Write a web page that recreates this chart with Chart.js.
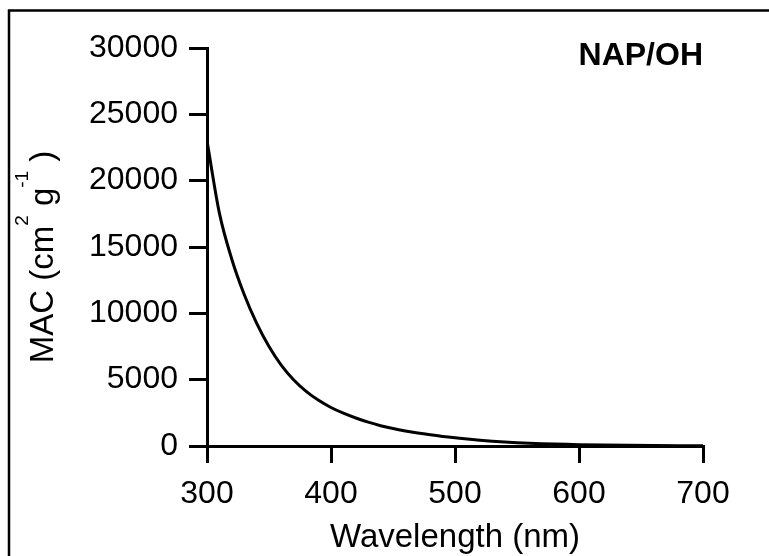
<!DOCTYPE html>
<html>
<head>
<meta charset="utf-8">
<script src="https://cdn.jsdelivr.net/npm/chart.js@4/dist/chart.umd.min.js"></script>
<style>
  html, body { margin: 0; padding: 0; background: #fff; }
  #wrap { width: 769px; height: 556px; position: relative; }
</style>
</head>
<body>
<div id="wrap"><canvas id="macChart" width="769" height="556"></canvas></div>
<script>
// spectrum
const wavelengths = [300, 310, 320, 330, 340, 350, 360, 370, 380, 390, 400, 410, 420, 430, 440, 450, 460, 470, 480, 490, 500,
                     510, 520, 530, 540, 550, 560, 570, 580, 590, 600, 620, 640, 660, 680, 700];
const macValues = [23000, 17550, 14080, 11420, 9260, 7500, 6080, 4980, 4120, 3440, 2900, 2470, 2110, 1795, 1530, 1316, 1133, 975, 840, 722, 622,
                   520, 434, 363, 303, 253, 211, 177, 148, 123, 103, 72, 50, 35, 25, 18];
const xTicks = [300, 400, 500, 600, 700];
const yTicks = [0, 5000, 10000, 15000, 20000, 25000, 30000];
const panelLabel = 'NAP/OH';

const FONT = '"Liberation Sans", Arial, sans-serif';

// frame, panel label and axis titles drawn by hand (superscripts)
const decor = {
    id: 'decor',
    afterDraw(chart) {
        const ctx = chart.ctx;
        const area = chart.chartArea;
        ctx.save();
        ctx.strokeStyle = '#000';
        ctx.lineWidth = 2.5;
        ctx.beginPath();
        ctx.moveTo(9, 556);
        ctx.lineTo(9, 10.5);
        ctx.lineTo(769, 10.5);
        ctx.stroke();

        ctx.fillStyle = '#000';
        ctx.font = 'bold 32px ' + FONT;
        ctx.textAlign = 'right';
        ctx.textBaseline = 'alphabetic';
        ctx.fillText(panelLabel, area.right, 65);

        ctx.font = '33px ' + FONT;
        ctx.textAlign = 'center';
        ctx.fillText('Wavelength (nm)', (area.left + area.right) / 2, 547);

        // rotated y title
        ctx.translate(53, 257);
        ctx.rotate(-Math.PI / 2);
        const parts = [
            ['MAC (cm', 33, 0],
            ['2', 19, 25],
            [' g', 33, 0],
            ['-1', 19, 25],
            [' )', 33, 0]
        ];
        let total = 0;
        parts.forEach(p => { ctx.font = p[1] + 'px ' + FONT; total += ctx.measureText(p[0]).width; });
        let x = -total / 2;
        ctx.textAlign = 'left';
        parts.forEach(p => {
            ctx.font = p[1] + 'px ' + FONT;
            ctx.fillText(p[0], x, -p[2]);
            x += ctx.measureText(p[0]).width;
        });
        ctx.restore();
    }
};

new Chart(document.getElementById('macChart').getContext('2d'), {
    type: 'line',
    data: {
        datasets: [{
            data: wavelengths.map((w, i) => ({ x: w, y: macValues[i] })),
            borderColor: '#000',
            borderWidth: 3,
            pointRadius: 0,
            cubicInterpolationMode: 'monotone',
            fill: false
        }]
    },
    options: {
        responsive: false,
        animation: false,
        layout: { padding: { left: 0, top: 48, right: 66, bottom: 0 } },
        plugins: { legend: { display: false }, tooltip: { enabled: false } },
        scales: {
            x: {
                type: 'linear',
                min: 300,
                max: 700,
                afterFit: s => { s.height = 110; },
                afterBuildTicks: s => { s.ticks = xTicks.map(v => ({ value: v })); },
                grid: { drawOnChartArea: false, tickLength: 17, lineWidth: 3, color: '#000' },
                border: { color: '#000', width: 3 },
                ticks: { color: '#000', font: { family: FONT, size: 32 }, padding: 12, maxRotation: 0 }
            },
            y: {
                min: 0,
                max: 30000,
                afterFit: s => { s.width = 207; },
                afterBuildTicks: s => { s.ticks = yTicks.map(v => ({ value: v })); },
                grid: { drawOnChartArea: false, tickLength: 18, lineWidth: 3, color: '#000' },
                border: { color: '#000', width: 3 },
                ticks: { color: '#000', font: { family: FONT, size: 32 }, padding: 11, callback: v => String(v) }
            }
        }
    },
    plugins: [decor]
});
</script>
</body>
</html>
